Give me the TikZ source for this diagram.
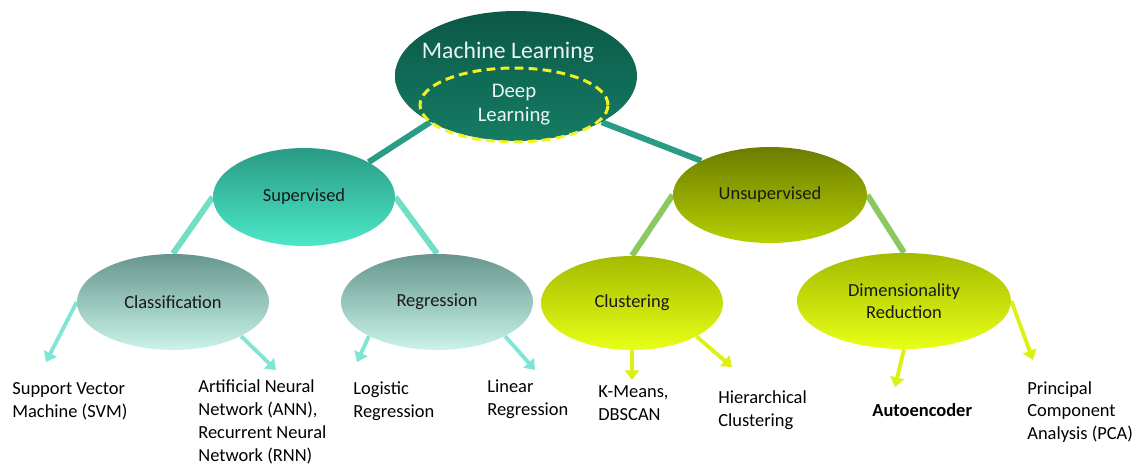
\documentclass[tikz,border=0pt]{standalone}
\usepackage{fontspec}
\setmainfont{Carlito}
\usetikzlibrary{arrows.meta, shapes.geometric, backgrounds}

\definecolor{mltop}{HTML}{0B5846}
\definecolor{mlbot}{HTML}{157C64}
\definecolor{suptop}{HTML}{2A9A84}
\definecolor{supbot}{HTML}{4CE8C8}
\definecolor{unstop}{HTML}{6C7C00}
\definecolor{unsbot}{HTML}{B6D000}
\definecolor{clstop}{HTML}{66968D}
\definecolor{clsbot}{HTML}{CAF4EA}
\definecolor{clutop}{HTML}{A4BC00}
\definecolor{clubot}{HTML}{E8FF16}
\definecolor{tealline}{HTML}{289C84}
\definecolor{aqualine}{HTML}{72DEC6}
\definecolor{greenline}{HTML}{8CC860}
\definecolor{aquaarrow}{HTML}{80E6D4}
\definecolor{yellowarrow}{HTML}{DCF014}
\definecolor{dashyellow}{HTML}{F2F222}
\definecolor{paletext}{HTML}{EAF6F2}

\tikzset{
  blob/.style n args = {4}{
    ellipse, inner sep=0pt, minimum width=#1, minimum height=#2,
    top color=#3, bottom color=#4, text=black!90,
    font=\fontsize{10.5}{12.5}\selectfont, align=center
  },
  link/.style = {line width=3.4pt, #1},
  branch/.style = {line width=2.2pt, #1, -{Triangle[length=5.5pt, width=8pt]}},
  leaf/.style = {anchor=west, inner sep=0pt, align=left,
    font=\fontsize{10.5}{13}\selectfont}
}

\begin{document}
\begin{tikzpicture}[x=0.02cm, y=-0.02cm]

  \useasboundingbox (0,0) rectangle (1143,468);

  %% Root
  \node[blob={4.84cm}{2.6cm}{mltop}{mlbot}] (ml) at (516,76) {};
  \node[text=paletext, font=\fontsize{13.5}{15}\selectfont] (mltext) at (508,52) {Machine Learning};
  \node[ellipse, draw=dashyellow, line width=1.7pt, dash pattern=on 5pt off 3pt,
        minimum width=3.76cm, minimum height=1.48cm, inner sep=0pt, align=center,
        text=paletext, font=\fontsize{11.8}{13.6}\selectfont] (dl) at (514,105) {Deep\\Learning};

  % Second level
  \node[blob={3.64cm}{1.96cm}{suptop}{supbot}] (sup) at (304,197) {Supervised};
  \node[blob={3.88cm}{1.92cm}{unstop}{unsbot}] (unsup) at (770,195) {Unsupervised};

  % Third level
  \node[blob={3.84cm}{1.92cm}{clstop}{clsbot}] (cls) at (173,302) {Classification};
  \node[blob={3.84cm}{1.92cm}{clstop}{clsbot}] (reg) at (437,302) {Regression};
  \node[blob={3.64cm}{1.88cm}{clutop}{clubot}] (clu) at (632,303) {Clustering};
  \node[blob={4.28cm}{1.92cm}{clutop}{clubot}] (dim) at (904,301) {Dimensionality\\Reduction};

  % Leaves
  \node[leaf] (svm) at (12,401) {Support Vector\\Machine (SVM)};
  \node[leaf] (ann) at (198,422) {Artificial Neural\\Network (ANN),\\Recurrent Neural\\Network (RNN)};
  \node[leaf] (logit) at (353,401) {Logistic\\Regression};
  \node[leaf] (linreg) at (487,399) {Linear\\Regression};
  \node[leaf] (kmeans) at (598,403) {K-Means,\\DBSCAN};
  \node[leaf] (hier) at (718,410) {Hierarchical\\Clustering};
  \node[leaf, font=\fontsize{10.5}{13}\selectfont\bfseries] (ae) at (872,410) {Autoencoder};
  \node[leaf] (pca) at (1027,412) {Principal\\Component\\Analysis (PCA)};

  % Arrow tips
  \coordinate (svmtip) at (46,362);
  \coordinate (anntip) at (276,370);
  \coordinate (logittip) at (357,362);
  \coordinate (lintip) at (535,370);
  \coordinate (kmtip) at (632,380);
  \coordinate (hiertip) at (732,367);
  \coordinate (aetip) at (895,387);
  \coordinate (pcatip) at (1033,360);

  \begin{scope}[on background layer]
    % Tree links
    \draw[link=tealline] (ml.south west) -- (sup.north east);
    \draw[link=tealline] (ml.south east) -- (unsup.north west);
    \draw[link=aqualine] (sup.west) -- (cls.north);
    \draw[link=aqualine] (sup.east) -- (reg.north);
    \draw[link=greenline] (unsup.west) -- (clu.north);
    \draw[link=greenline] (unsup.east) -- (dim.north);

    % Methods
    \draw[branch=aquaarrow] (cls.west) -- (svmtip);
    \draw[branch=aquaarrow] (cls.south east) -- (anntip);
    \draw[branch=aquaarrow] (reg.south west) -- (logittip);
    \draw[branch=aquaarrow] (reg.south east) -- (lintip);
    \draw[branch=yellowarrow] (clu.south) -- (kmtip);
    \draw[branch=yellowarrow] (clu.south east) -- (hiertip);
    \draw[branch=yellowarrow] (dim.south) -- (aetip);
    \draw[branch=yellowarrow] (dim.east) -- (pcatip);
  \end{scope}

\end{tikzpicture}
\end{document}
